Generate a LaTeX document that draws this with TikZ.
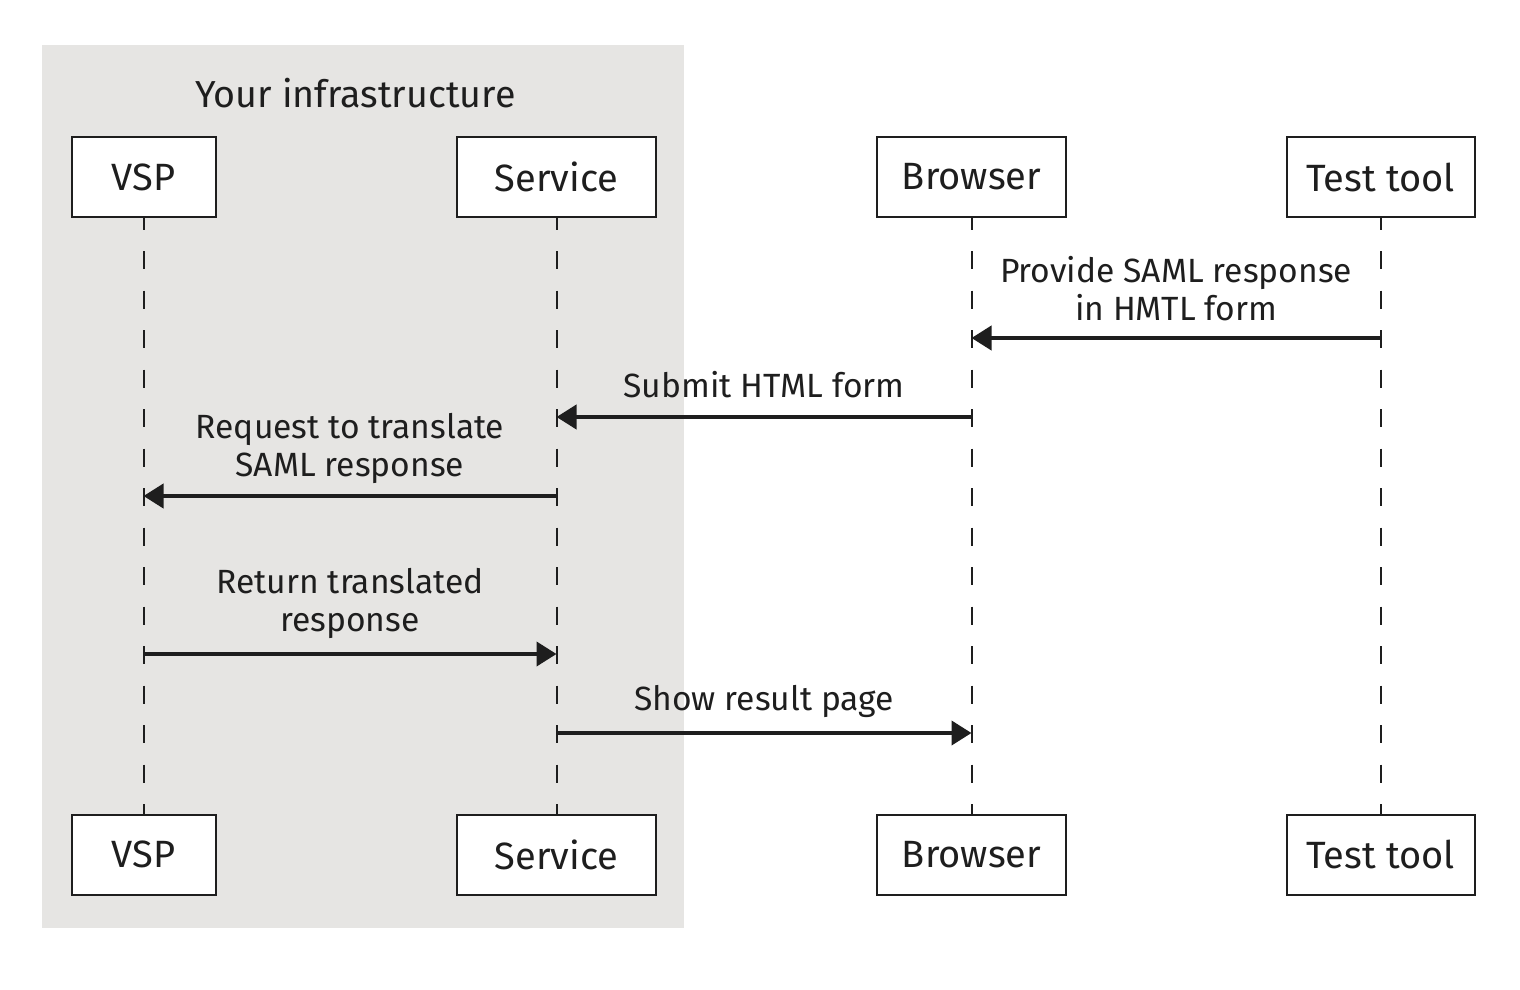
\documentclass[tikz,border=0pt]{standalone}
\usepackage{fontspec}
\setmainfont{Fira Sans}
\usetikzlibrary{arrows.meta}
\definecolor{ink}{HTML}{1E1E1E}
\definecolor{bg}{HTML}{E6E5E3}
\begin{document}
\begin{tikzpicture}[x=0.5pt,y=-0.5pt,
  actor/.style={draw=ink, line width=1pt, fill=white, minimum height=40pt, inner sep=0pt,
    font=\fontsize{19}{22}\selectfont, text=ink},
  lifeline/.style={draw=ink, line width=1pt, dash pattern=on 9pt off 10.75pt, dash phase=3.25pt},
  msg/.style={draw=ink, line width=2pt, -{Triangle[length=10pt,width=12pt]}},
  lbl/.style={font=\fontsize{16.8}{19}\selectfont, text=ink, align=center, inner sep=0pt}
]
\useasboundingbox (0,0) rectangle (1520,990);
\fill[white] (0,0) rectangle (1520,990);
\fill[bg] (42,45) rectangle (684,928);
\node[lbl, font=\fontsize{18.8}{21}\selectfont] (infra) at (355.5,93) {Your infrastructure};
% actors top
\node[actor, minimum width=72pt] (vspT) at (143.5,177) {VSP};
\node[actor, minimum width=99.5pt] (svcT) at (556.5,177) {Service};
\node[actor, minimum width=94.5pt] (brT) at (971.5,177) {Browser};
\node[actor, minimum width=94pt] (ttT) at (1380.5,177) {Test tool};
% actors bottom
\node[actor, minimum width=72pt] (vspB) at (143.5,854.5) {VSP};
\node[actor, minimum width=99.5pt] (svcB) at (556.5,854.5) {Service};
\node[actor, minimum width=94.5pt] (brB) at (971.5,854.5) {Browser};
\node[actor, minimum width=94pt] (ttB) at (1380.5,854.5) {Test tool};
% lifelines
\draw[lifeline] (vspT.south) -- (vspB.north);
\draw[lifeline] (svcT.south) -- (svcB.north);
\draw[lifeline] (brT.south) -- (brB.north);
\draw[lifeline] (ttT.south) -- (ttB.north);
% message points
\coordinate (tt1) at (ttT.south |- 0,338);
\coordinate (br1) at (brT.south |- 0,338);
\coordinate (br2) at (brT.south |- 0,417);
\coordinate (sv2) at (svcT.south |- 0,417);
\coordinate (sv3) at (svcT.south |- 0,496);
\coordinate (vs3) at (vspT.south |- 0,496);
\coordinate (vs4) at (vspT.south |- 0,654);
\coordinate (sv4) at (svcT.south |- 0,654);
\coordinate (sv5) at (svcT.south |- 0,733);
\coordinate (br5) at (brT.south |- 0,733);
% messages
\draw[msg] (tt1) -- (br1) node[lbl, midway, above=7.5pt] {Provide SAML response\\in HMTL form};
\draw[msg] (br2) -- (sv2) node[lbl, midway, above=8.5pt] {Submit HTML form};
\draw[msg] (sv3) -- (vs3) node[lbl, midway, above=5pt] {Request to translate\\SAML response};
\draw[msg] (vs4) -- (sv4) node[lbl, midway, above=6.5pt] {Return translated\\response};
\draw[msg] (sv5) -- (br5) node[lbl, midway, above=6.5pt] {Show result page};
\end{tikzpicture}
\end{document}
